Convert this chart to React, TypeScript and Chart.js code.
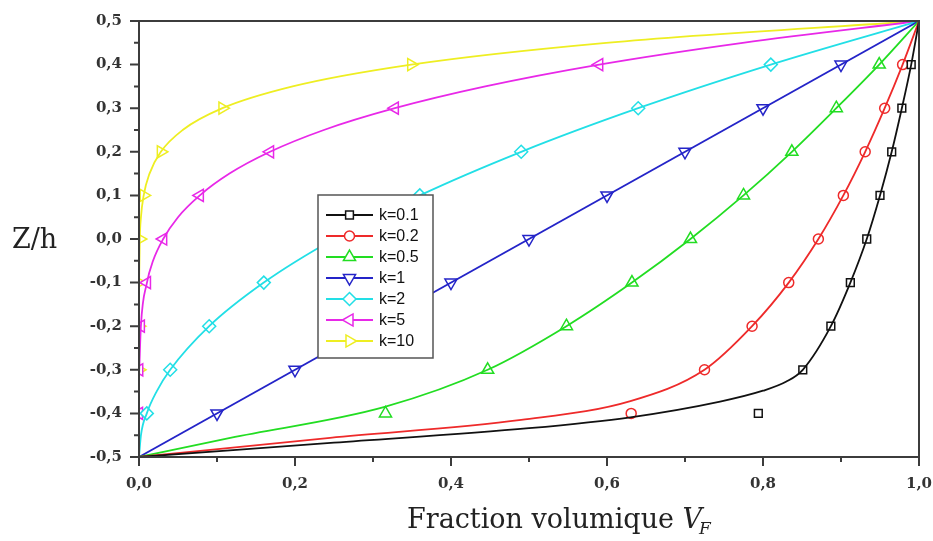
import React, { useEffect, useRef } from 'react';
import { Chart, registerables } from 'chart.js';

Chart.register(...registerables);

// ---------- data ----------
const seriesNames = ['k=0.1', 'k=0.2', 'k=0.5', 'k=1', 'k=2', 'k=5', 'k=10'];
const seriesColors = ['#111111', '#ee2a2a', '#22dd22', '#2424c8', '#22dfe6', '#e828e8', '#eeee22'];

// marker positions: Z/h levels and the V_F read at each level
const markerZ = [-0.4, -0.3, -0.2, -0.1, 0.0, 0.1, 0.2, 0.3, 0.4];
const markK01 = [0.794, 0.851, 0.887, 0.912, 0.933, 0.95, 0.965, 0.978, 0.99];
const markK02 = [0.631, 0.725, 0.786, 0.833, 0.871, 0.903, 0.931, 0.956, 0.979];
const markK05 = [0.316, 0.447, 0.548, 0.632, 0.707, 0.775, 0.837, 0.894, 0.949];
const markK1 = [0.1, 0.2, 0.3, 0.4, 0.5, 0.6, 0.7, 0.8, 0.9];
const markK2 = [0.01, 0.04, 0.09, 0.16, 0.25, 0.36, 0.49, 0.64, 0.81];
const markK5 = [0.0, 0.0003, 0.0024, 0.0102, 0.031, 0.078, 0.168, 0.328, 0.59];
const markK10 = [0.0, 0.0, 0.0, 0.0001, 0.001, 0.006, 0.028, 0.107, 0.349];

// curves: V_F (x) and Z/h (y)
const lineK01X = [0, 0.25, 0.5, 0.63, 0.745, 0.8, 0.83, 0.851, 0.887, 0.912, 0.933, 0.95, 0.965, 0.978, 0.99, 1];
const lineK01Y = [-0.5, -0.467, -0.434, -0.409, -0.373, -0.348, -0.327, -0.3, -0.2, -0.1, 0.0, 0.1, 0.2, 0.3, 0.4, 0.5];
const lineK02X = [0, 0.245, 0.49, 0.63, 0.725, 0.786, 0.833, 0.871, 0.903, 0.931, 0.956, 0.979, 1];
const lineK02Y = [-0.5, -0.456, -0.415, -0.372, -0.3, -0.2, -0.1, 0.0, 0.1, 0.2, 0.3, 0.4, 0.5];
const lineK05X = [0, 0.117, 0.315, 0.447, 0.548, 0.632, 0.707, 0.775, 0.837, 0.894, 0.949, 1];
const lineK05Y = [-0.5, -0.456, -0.385, -0.3, -0.2, -0.1, 0.0, 0.1, 0.2, 0.3, 0.4, 0.5];
const lineK1X = [0, 1];
const lineK1Y = [-0.5, 0.5];
const lineK2X = [0, 0.0025, 0.01, 0.0225, 0.04, 0.09, 0.16, 0.25, 0.36, 0.49, 0.64, 0.81, 1];
const lineK2Y = [-0.5, -0.45, -0.4, -0.35, -0.3, -0.2, -0.1, 0.0, 0.1, 0.2, 0.3, 0.4, 0.5];
const lineK5X = [0, 0.00005, 0.0003, 0.0024, 0.0102, 0.018, 0.031, 0.05, 0.078, 0.116, 0.168, 0.237, 0.328, 0.444, 0.59, 0.774, 1];
const lineK5Y = [-0.5, -0.35, -0.3, -0.2, -0.1, -0.05, 0.0, 0.05, 0.1, 0.15, 0.2, 0.25, 0.3, 0.35, 0.4, 0.45, 0.5];
const lineK10X = [0, 0.00001, 0.0001, 0.001, 0.0025, 0.006, 0.0135, 0.028, 0.056, 0.107, 0.197, 0.349, 0.599, 1];
const lineK10Y = [-0.5, -0.2, -0.1, 0.0, 0.05, 0.1, 0.15, 0.2, 0.25, 0.3, 0.35, 0.4, 0.45, 0.5];

const xMajorTicks = [0, 0.2, 0.4, 0.6, 0.8, 1.0];
const xMinorTicks = [0.1, 0.3, 0.5, 0.7, 0.9];
const yMajorTicks = [-0.5, -0.4, -0.3, -0.2, -0.1, 0.0, 0.1, 0.2, 0.3, 0.4, 0.5];
const yMinorTicks = [-0.45, -0.35, -0.25, -0.15, -0.05, 0.05, 0.15, 0.25, 0.35, 0.45];

const yTitle = 'Z/h';
const xTitleMain = 'Fraction volumique ';
const xTitleVar = 'V';
const xTitleSub = 'F';

// ---------- styles ----------
const markerStyles = ['rect', 'circle', 'triangle', 'triangle', 'rectRot', 'triangle', 'triangle'];
const markerRotations = [0, 0, 0, 180, 0, 270, 90];
const markerRadius = [5.5, 5, 7, 7, 6.5, 7, 7];

const lineSets = [
  [lineK01X, lineK01Y], [lineK02X, lineK02Y], [lineK05X, lineK05Y], [lineK1X, lineK1Y],
  [lineK2X, lineK2Y], [lineK5X, lineK5Y], [lineK10X, lineK10Y],
];
const markSets = [markK01, markK02, markK05, markK1, markK2, markK5, markK10];

const fmt = (v: number) => (Math.abs(v) < 1e-9 ? '0,0' : v.toFixed(1).replace('.', ','));

function drawMarker(ctx: CanvasRenderingContext2D, i: number, x: number, y: number) {
  const r = markerRadius[i];
  const style = markerStyles[i];
  ctx.save();
  ctx.translate(x, y);
  ctx.rotate((markerRotations[i] * Math.PI) / 180);
  ctx.beginPath();
  if (style === 'rect') {
    const s = r * Math.SQRT1_2;
    ctx.rect(-s, -s, 2 * s, 2 * s);
  } else if (style === 'circle') {
    ctx.arc(0, 0, r, 0, Math.PI * 2);
  } else if (style === 'rectRot') {
    ctx.moveTo(0, -r); ctx.lineTo(r, 0); ctx.lineTo(0, r); ctx.lineTo(-r, 0); ctx.closePath();
  } else {
    for (let k = 0; k < 3; k++) {
      const a = (k * 2 * Math.PI) / 3;
      const px = Math.sin(a) * r, py = -Math.cos(a) * r;
      if (k === 0) ctx.moveTo(px, py); else ctx.lineTo(px, py);
    }
    ctx.closePath();
  }
  ctx.fillStyle = '#ffffff';
  ctx.fill();
  ctx.lineWidth = 1.5;
  ctx.strokeStyle = seriesColors[i];
  ctx.stroke();
  ctx.restore();
}

const framePlugin = {
  id: 'framePlugin',
  afterDatasetsDraw(chart: any) {
    const { ctx, chartArea: a, scales } = chart;
    const xs = scales.x, ys = scales.y;
    ctx.save();
    ctx.strokeStyle = '#3c3c3c';
    ctx.lineWidth = 2;
    ctx.strokeRect(a.left, a.top, a.right - a.left, a.bottom - a.top);
    ctx.beginPath();
    for (const v of xMajorTicks) { const p = xs.getPixelForValue(v); ctx.moveTo(p, a.bottom); ctx.lineTo(p, a.bottom + 9); }
    for (const v of xMinorTicks) { const p = xs.getPixelForValue(v); ctx.moveTo(p, a.bottom); ctx.lineTo(p, a.bottom + 5); }
    for (const v of yMajorTicks) { const p = ys.getPixelForValue(v); ctx.moveTo(a.left, p); ctx.lineTo(a.left - 9, p); }
    for (const v of yMinorTicks) { const p = ys.getPixelForValue(v); ctx.moveTo(a.left, p); ctx.lineTo(a.left - 5, p); }
    ctx.stroke();

    // titles
    ctx.fillStyle = '#222222';
    ctx.textBaseline = 'alphabetic';
    ctx.textAlign = 'left';
    ctx.font = '27px "DejaVu Serif"';
    ctx.fillText(yTitle, 12, 248);
    let tx = 407;
    const ty = 528;
    ctx.fillText(xTitleMain, tx, ty);
    tx += ctx.measureText(xTitleMain).width;
    ctx.font = 'italic 27px "DejaVu Serif"';
    ctx.fillText(xTitleVar, tx, ty);
    tx += ctx.measureText(xTitleVar).width - 3;
    ctx.font = 'italic 17px "DejaVu Serif"';
    ctx.fillText(xTitleSub, tx, ty + 6);

    // legend
    const bx = 318, by = 195, bw = 115, bh = 163;
    ctx.fillStyle = '#ffffff';
    ctx.fillRect(bx, by, bw, bh);
    ctx.strokeStyle = '#555555';
    ctx.lineWidth = 1.5;
    ctx.strokeRect(bx, by, bw, bh);
    ctx.font = '16px "Liberation Sans"';
    ctx.textBaseline = 'middle';
    for (let i = 0; i < seriesNames.length; i++) {
      const cy = 215 + i * 21;
      ctx.strokeStyle = seriesColors[i];
      ctx.lineWidth = 1.8;
      ctx.beginPath(); ctx.moveTo(326, cy); ctx.lineTo(373, cy); ctx.stroke();
      drawMarker(ctx, i, 349.5, cy);
      ctx.fillStyle = '#111111';
      ctx.fillText(seriesNames[i], 379, cy + 1);
    }
    ctx.restore();
  },
};

export default function App() {
  const ref = useRef<HTMLCanvasElement | null>(null);
  useEffect(() => {
    document.body.style.margin = '0';
    const canvas = ref.current;
    if (!canvas) return;
    const datasets: any[] = [];
    lineSets.forEach(([xs, ys], i) => {
      datasets.push({
        label: seriesNames[i] + ' line',
        data: xs.map((x, j) => ({ x, y: ys[j] })),
        showLine: true,
        borderColor: seriesColors[i],
        borderWidth: 1.8,
        pointRadius: 0,
        cubicInterpolationMode: 'monotone',
        fill: false,
      });
    });
    markSets.forEach((xs, i) => {
      datasets.push({
        label: seriesNames[i],
        data: xs.map((x, j) => ({ x, y: markerZ[j] })),
        showLine: false,
        pointStyle: markerStyles[i],
        rotation: markerRotations[i],
        pointRadius: markerRadius[i],
        pointBorderWidth: 1.5,
        pointBorderColor: seriesColors[i],
        pointBackgroundColor: '#ffffff',
        borderColor: seriesColors[i],
        backgroundColor: '#ffffff',
      });
    });
    const tickFont = { family: '"DejaVu Serif"', size: 15, weight: 'bold' as const };
    const chart = new Chart(canvas, {
      type: 'scatter',
      data: { datasets },
      options: {
        animation: false,
        responsive: false,
        devicePixelRatio: 1,
        layout: { padding: { top: 21, right: 14, left: 0, bottom: 0 } },
        plugins: { legend: { display: false }, tooltip: { enabled: false } },
        scales: {
          x: {
            type: 'linear', min: 0, max: 1,
            grid: { display: false, drawTicks: false },
            border: { display: false },
            ticks: { stepSize: 0.2, padding: 18, color: '#333333', font: tickFont, callback: (v: any) => fmt(Number(v)), maxRotation: 0 },
            afterFit: (s: any) => { s.height = 84; s.paddingLeft = 0; s.paddingRight = 0; },
          },
          y: {
            type: 'linear', min: -0.5, max: 0.5,
            grid: { display: false, drawTicks: false },
            border: { display: false },
            ticks: { stepSize: 0.1, padding: 17, color: '#333333', font: tickFont, callback: (v: any) => fmt(Number(v)) },
            afterFit: (s: any) => { s.width = 139; s.paddingTop = 0; s.paddingBottom = 0; },
          },
        },
      },
      plugins: [framePlugin],
    } as any);
    return () => chart.destroy();
  }, []);
  return (
    <div style={{ width: 933, height: 541 }}>
      <canvas ref={ref} width={933} height={541} style={{ display: 'block' }} />
    </div>
  );
}
